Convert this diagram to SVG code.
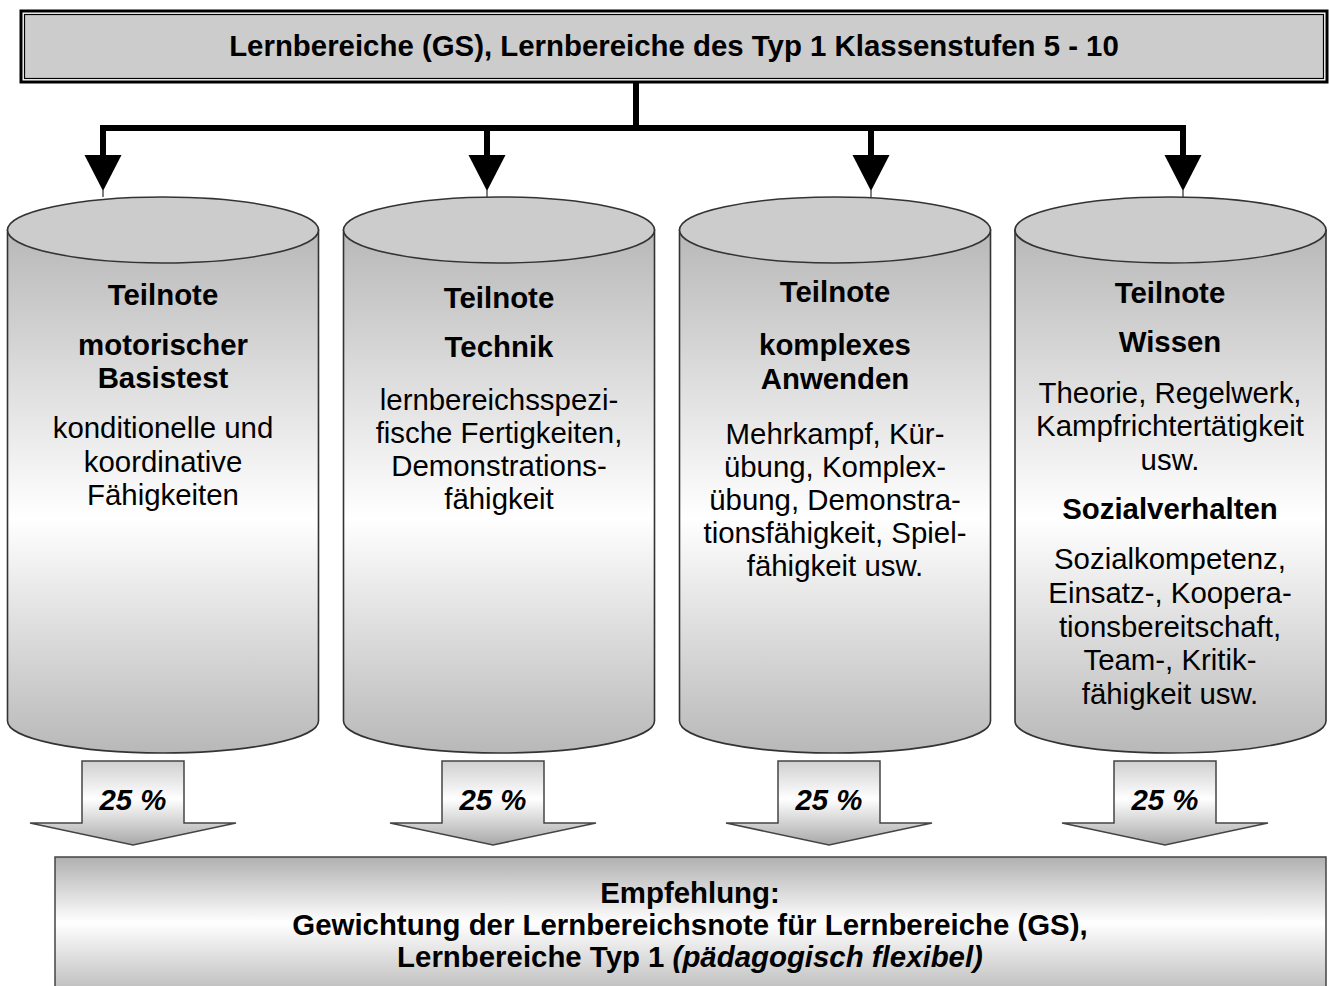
<svg xmlns="http://www.w3.org/2000/svg" width="1329" height="986" viewBox="0 0 1329 986">
<style>
.t{font-family:"Liberation Sans",Arial,sans-serif;font-size:29.4px;text-anchor:middle;fill:#000}
.b{font-weight:bold}
.bi{font-weight:bold;font-style:italic}
.cyl{fill:url(#gCyl);stroke:#333;stroke-width:1.6}
.cap{fill:#cccccc;stroke:#333;stroke-width:1.6}
.pct{fill:url(#gArr);stroke:#444;stroke-width:1.5}
.wire{stroke:#000;stroke-width:6;fill:none}
.tip{fill:#000}
.thin{stroke:#555;stroke-width:1.5}
</style>
<defs>
<linearGradient id="gCyl" x1="0" y1="0" x2="0" y2="1">
<stop offset="0" stop-color="#b8b8b8"/>
<stop offset="0.55" stop-color="#ffffff"/>
<stop offset="1" stop-color="#b8b8b8"/>
</linearGradient>
<linearGradient id="gArr" x1="0" y1="0" x2="0" y2="1">
<stop offset="0" stop-color="#cfcfcf"/>
<stop offset="0.45" stop-color="#ffffff"/>
<stop offset="1" stop-color="#a8a8a8"/>
</linearGradient>
<linearGradient id="gBot" x1="0" y1="0" x2="0" y2="1">
<stop offset="0" stop-color="#b0b0b0"/>
<stop offset="0.47" stop-color="#ffffff"/>
<stop offset="1" stop-color="#b8b8b8"/>
</linearGradient>
</defs>
<rect width="1329" height="986" fill="#fff"/>

<g id="top">
<rect x="21" y="11" width="1306" height="71" fill="#fff" stroke="#000" stroke-width="3"/>
<rect x="24.5" y="14.5" width="1299" height="64" fill="#cccccc" stroke="#000" stroke-width="1.2"/>
<text class="t b" x="674" y="56">Lernbereiche (GS), Lernbereiche des Typ 1 Klassenstufen 5 - 10</text>
</g>

<g id="connectors">
<line class="wire" x1="636" y1="82" x2="636" y2="128" stroke-width="5"/>
<line class="wire" x1="100" y1="128" x2="1186" y2="128"/>
<line class="wire" x1="103" y1="128" x2="103" y2="157"/>
<line class="wire" x1="487" y1="128" x2="487" y2="157"/>
<line class="wire" x1="871" y1="128" x2="871" y2="157"/>
<line class="wire" x1="1183" y1="128" x2="1183" y2="157"/>
<polygon class="tip" points="84.5,155 121.5,155 103,191"/>
<polygon class="tip" points="468.5,155 505.5,155 487,191"/>
<polygon class="tip" points="852.5,155 889.5,155 871,191"/>
<polygon class="tip" points="1164.5,155 1201.5,155 1183,191"/>
<line class="thin" x1="103" y1="190" x2="103" y2="197"/>
<line class="thin" x1="487" y1="190" x2="487" y2="197"/>
<line class="thin" x1="871" y1="190" x2="871" y2="197"/>
<line class="thin" x1="1183" y1="190" x2="1183" y2="197"/>
</g>

<g id="cyl1">
<path class="cyl" d="M7.5,230 V721 A155.5,32 0 0 0 318.5,721 V230 Z"/>
<ellipse class="cap" cx="163" cy="230" rx="155.5" ry="33"/>
<text class="t b" x="163" y="305">Teilnote</text>
<text class="t b" x="163" y="355">motorischer</text>
<text class="t b" x="163" y="388">Basistest</text>
<text class="t" x="163" y="438">konditionelle und</text>
<text class="t" x="163" y="472">koordinative</text>
<text class="t" x="163" y="505">Fähigkeiten</text>
</g>

<g id="cyl2">
<path class="cyl" d="M343.5,230 V721 A155.5,32 0 0 0 654.5,721 V230 Z"/>
<ellipse class="cap" cx="499" cy="230" rx="155.5" ry="33"/>
<text class="t b" x="499" y="308">Teilnote</text>
<text class="t b" x="499" y="357">Technik</text>
<text class="t" x="499" y="410">lernbereichsspezi-</text>
<text class="t" x="499" y="443">fische Fertigkeiten,</text>
<text class="t" x="499" y="476">Demonstrations-</text>
<text class="t" x="499" y="509">fähigkeit</text>
</g>

<g id="cyl3">
<path class="cyl" d="M679.5,230 V721 A155.5,32 0 0 0 990.5,721 V230 Z"/>
<ellipse class="cap" cx="835" cy="230" rx="155.5" ry="33"/>
<text class="t b" x="835" y="302">Teilnote</text>
<text class="t b" x="835" y="355">komplexes</text>
<text class="t b" x="835" y="389">Anwenden</text>
<text class="t" x="835" y="444">Mehrkampf, Kür-</text>
<text class="t" x="835" y="477">übung, Komplex-</text>
<text class="t" x="835" y="510">übung, Demonstra-</text>
<text class="t" x="835" y="543">tionsfähigkeit, Spiel-</text>
<text class="t" x="835" y="576">fähigkeit usw.</text>
</g>

<g id="cyl4">
<path class="cyl" d="M1015,230 V721 A155.5,32 0 0 0 1326,721 V230 Z"/>
<ellipse class="cap" cx="1170.5" cy="230" rx="155.5" ry="33"/>
<text class="t b" x="1170" y="303">Teilnote</text>
<text class="t b" x="1170" y="352">Wissen</text>
<text class="t" x="1170" y="403">Theorie, Regelwerk,</text>
<text class="t" x="1170" y="436">Kampfrichtertätigkeit</text>
<text class="t" x="1170" y="470">usw.</text>
<text class="t b" x="1170" y="519">Sozialverhalten</text>
<text class="t" x="1170" y="569">Sozialkompetenz,</text>
<text class="t" x="1170" y="603">Einsatz-, Koopera-</text>
<text class="t" x="1170" y="637">tionsbereitschaft,</text>
<text class="t" x="1170" y="670">Team-, Kritik-</text>
<text class="t" x="1170" y="704">fähigkeit usw.</text>
</g>

<g id="weights">
<path class="pct" d="M82,761 H184 V823 H236 L133,845 L30,823 H82 Z"/>
<text class="t bi" x="133" y="810">25 %</text>
<path class="pct" d="M442,761 H544 V823 H596 L493,845 L390,823 H442 Z"/>
<text class="t bi" x="493" y="810">25 %</text>
<path class="pct" d="M778,761 H880 V823 H932 L829,845 L726,823 H778 Z"/>
<text class="t bi" x="829" y="810">25 %</text>
<path class="pct" d="M1114,761 H1216 V823 H1268 L1165,845 L1062,823 H1114 Z"/>
<text class="t bi" x="1165" y="810">25 %</text>
</g>

<g id="bottom">
<rect x="55" y="857" width="1271" height="140" fill="url(#gBot)" stroke="#444" stroke-width="1.5"/>
<text class="t b" x="690" y="903">Empfehlung:</text>
<text class="t b" x="690" y="935">Gewichtung der Lernbereichsnote für Lernbereiche (GS),</text>
<text class="t b" x="690" y="967">Lernbereiche Typ 1 <tspan class="bi">(pädagogisch flexibel)</tspan></text>
</g>
</svg>
